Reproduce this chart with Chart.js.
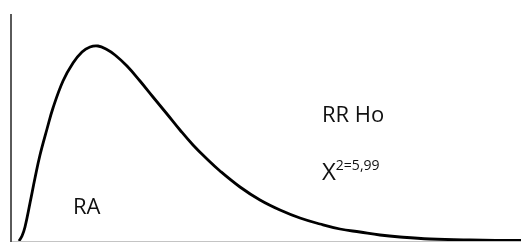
<!DOCTYPE html>
<html>
<head>
<meta charset="utf-8">
<script src="https://cdn.jsdelivr.net/npm/chart.js@4/dist/chart.umd.min.js"></script>
<style>
  html, body { margin: 0; padding: 0; background: #fff; }
  #wrap { width: 521px; height: 243px; }
</style>
</head>
<body>
<div id="wrap"><canvas id="chart"></canvas></div>
<script>
// curve (x along the axis, density height)
const curveX = [8, 11, 14, 19, 24, 29, 36, 42, 52, 62, 71, 79, 87, 95, 104, 116, 129, 142, 156, 169, 182, 196, 209, 229, 249, 269, 289, 309, 329, 349, 369, 389, 419, 459, 510];
const curveY = [0, 5, 14, 38, 63, 86, 112, 133, 160, 178, 189, 194, 195, 192, 186, 175, 160, 144, 127, 111, 96, 82, 70, 54, 41, 31, 23, 17, 12, 9, 6, 4, 2, 1, 0.5];

// text annotations
const notes = [
    { text: 'RA', x: 62, y: 27, size: 22 },
    { text: 'RR Ho', x: 311, y: 119, size: 22 },
    { text: 'X', x: 311, y: 61, size: 24, sup: '2=5,99' }
];

const FONT = '"Open Sans", sans-serif';

const axesAndText = {
    id: 'axesAndText',
    afterDatasetsDraw(chart) {
        const { ctx, chartArea, scales } = chart;
        const x0 = scales.x.getPixelForValue(0);
        const y0 = scales.y.getPixelForValue(0);
        ctx.save();
        // baseline
        ctx.strokeStyle = '#c4c4c4';
        ctx.lineWidth = 1;
        ctx.beginPath();
        ctx.moveTo(x0, y0 + 0.5);
        ctx.lineTo(chartArea.right, y0 + 0.5);
        ctx.stroke();
        // left axis
        ctx.strokeStyle = '#5a5a5a';
        ctx.lineWidth = 2;
        ctx.beginPath();
        ctx.moveTo(x0, chartArea.top);
        ctx.lineTo(x0, y0 + 1);
        ctx.stroke();

        ctx.fillStyle = '#111';
        ctx.textBaseline = 'alphabetic';
        notes.forEach(n => {
            const px = scales.x.getPixelForValue(n.x);
            const py = scales.y.getPixelForValue(n.y);
            ctx.font = n.size + 'px ' + FONT;
            ctx.fillText(n.text, px, py);
            if (n.sup) {
                const w = ctx.measureText(n.text).width;
                ctx.font = '14px ' + FONT;
                ctx.fillText(n.sup, px + w, py - 10);
            }
        });
        ctx.restore();
    }
};

new Chart(document.getElementById('chart'), {
    type: 'line',
    data: {
        datasets: [{
            data: curveX.map((x, i) => ({ x: x, y: curveY[i] })),
            borderColor: '#000',
            borderWidth: 2.8,
            pointRadius: 0,
            fill: false,
            tension: 0.4
        }]
    },
    options: {
        responsive: true,
        maintainAspectRatio: false,
        animation: false,
        layout: { padding: { left: 11, top: 14, right: 0, bottom: 2 } },
        plugins: { legend: { display: false }, tooltip: { enabled: false } },
        scales: {
            x: { type: 'linear', min: 0, max: 510, display: false },
            y: { min: 0, max: 227, display: false }
        }
    },
    plugins: [axesAndText]
});
</script>
</body>
</html>
